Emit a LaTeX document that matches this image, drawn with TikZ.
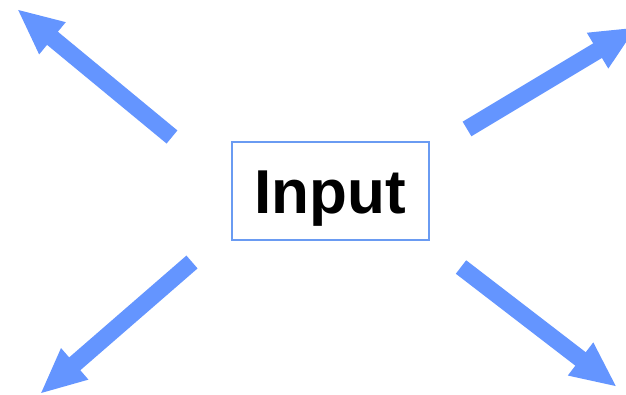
\documentclass[tikz,border=0pt]{standalone}
\usepackage{fontspec}
\setmainfont{Liberation Sans}
\usetikzlibrary{arrows.meta}
\definecolor{arrowblue}{HTML}{6495FF}
\definecolor{boxblue}{HTML}{6A9BF2}
\tikzset{
  bigarrow/.style={draw=arrowblue, line width=17pt, line cap=butt,
    -{Triangle[width=38pt,length=46pt]}},
  inputbox/.style={draw=boxblue, line width=1.5pt, fill=white,
    minimum width=197pt, minimum height=98pt, inner sep=0pt,
    text height=45pt, text depth=0pt,
    font=\bfseries\fontsize{62}{62}\selectfont}
}
\begin{document}
\begin{tikzpicture}[x=1pt, y=-1pt]
  \useasboundingbox (0,0) rectangle (626,395);
  \clip (0,0) rectangle (626,395);
  \node[inputbox] (input) at (330.5,191) {Input};
  % arrow tails near the box, heads pointing outward
  \coordinate (tl0) at (172,137);  \coordinate (tl1) at (17,9);
  \coordinate (tr0) at (467,129);  \coordinate (tr1) at (637,27);
  \coordinate (bl0) at (192,262);  \coordinate (bl1) at (40,394);
  \coordinate (br0) at (461,267);  \coordinate (br1) at (617,387);
  \draw[bigarrow] (tl0) -- (tl1);
  \draw[bigarrow] (tr0) -- (tr1);
  \draw[bigarrow] (bl0) -- (bl1);
  \draw[bigarrow] (br0) -- (br1);
\end{tikzpicture}
\end{document}
